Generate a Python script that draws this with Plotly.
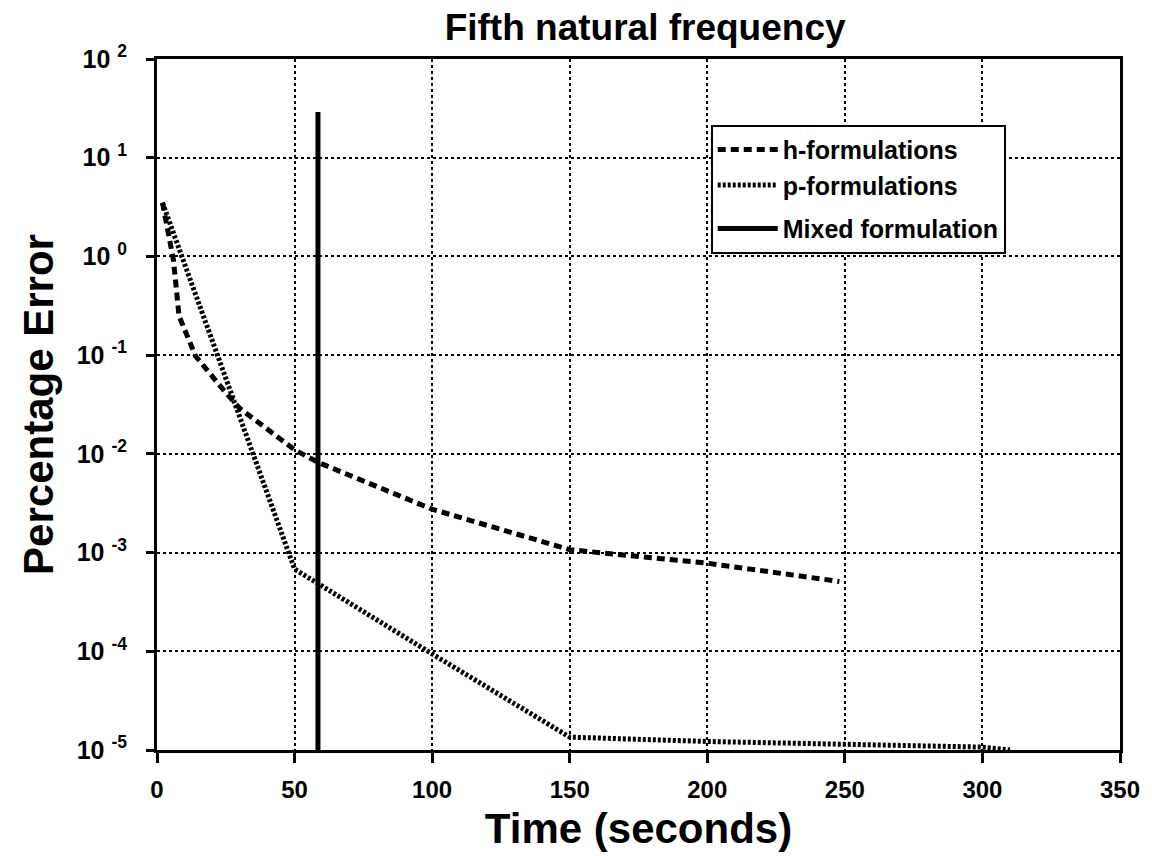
import plotly.graph_objects as go

# Data
h_time = [2, 6, 8, 14, 24, 30, 50, 59, 100, 150, 200, 248]
h_err = [3.5, 0.91, 0.25, 0.098, 0.045, 0.029, 0.011, 0.0081, 0.00275, 0.00107, 0.00078, 0.00051]

p_time = [2, 50, 100, 150, 200, 250, 300, 310]
p_err = [3.5, 0.00068, 0.000094, 0.0000135, 0.0000122, 0.0000114, 0.0000107, 0.00001]

mixed_time = [58.5, 58.5]
mixed_err = [0.00001, 29]

x_ticks = [0, 50, 100, 150, 200, 250, 300, 350]
y_exponents = [2, 1, 0, -1, -2, -3, -4, -5]

FONT = "Liberation Sans, Arial, Helvetica, sans-serif"

fig = go.Figure()
fig.add_trace(go.Scatter(
    x=h_time, y=h_err, mode="lines", name="h-formulations",
    legendgroup="g1",
    line=dict(color="black", width=5, dash="8px,5px"),
))
fig.add_trace(go.Scatter(
    x=p_time, y=p_err, mode="lines", name="p-formulations",
    legendgroup="g1",
    line=dict(color="black", width=5, dash="3px,2px"),
))
fig.add_trace(go.Scatter(
    x=mixed_time, y=mixed_err, mode="lines", name="Mixed formulation",
    legendgroup="g2",
    line=dict(color="black", width=5),
))

fig.update_layout(
    width=1152, height=856,
    margin=dict(l=157, r=30, t=59, b=105),
    paper_bgcolor="white", plot_bgcolor="white",
    font=dict(family=FONT, color="black", size=20, weight="bold"),
    title=dict(
        text="Fifth natural frequency", x=0.56, xanchor="center",
        y=0.968, yanchor="middle",
        font=dict(size=37, family=FONT, color="black", weight="bold"),
    ),
    legend=dict(
        x=0.575, y=0.905, xanchor="left", yanchor="top",
        bgcolor="white", bordercolor="black", borderwidth=2,
        font=dict(size=25, family=FONT, color="black", weight="bold"),
        tracegroupgap=8, itemwidth=60,
    ),
    showlegend=True,
)

fig.update_xaxes(
    range=[0, 350], tickvals=x_ticks, ticktext=[str(v) for v in x_ticks],
    showline=True, linecolor="black", linewidth=3, mirror=True,
    ticks="outside", ticklen=10, tickwidth=3, tickcolor="black",
    showgrid=True, gridcolor="black", gridwidth=1.5, griddash="dot",
    zeroline=False,
    tickfont=dict(size=24, family=FONT, color="black", weight="bold"),
    ticklabelstandoff=6,
    title=dict(text="Time (seconds)", standoff=12,
               font=dict(size=42, family=FONT, color="black", weight="bold")),
)
fig.update_yaxes(
    type="log", range=[-5, 2],
    tickvals=[10.0 ** e for e in y_exponents],
    ticktext=["10 <sup>%d</sup>" % e for e in y_exponents],
    showline=True, linecolor="black", linewidth=3, mirror=True,
    ticks="outside", ticklen=8, tickwidth=3, tickcolor="black",
    showgrid=True, gridcolor="black", gridwidth=1.5, griddash="dot",
    zeroline=False,
    tickfont=dict(size=25, family=FONT, color="black", weight="bold"),
    ticklabelstandoff=14,
    title=dict(text="Percentage Error", standoff=10,
               font=dict(size=42, family=FONT, color="black", weight="bold")),
)

fig.write_html("out.html")
